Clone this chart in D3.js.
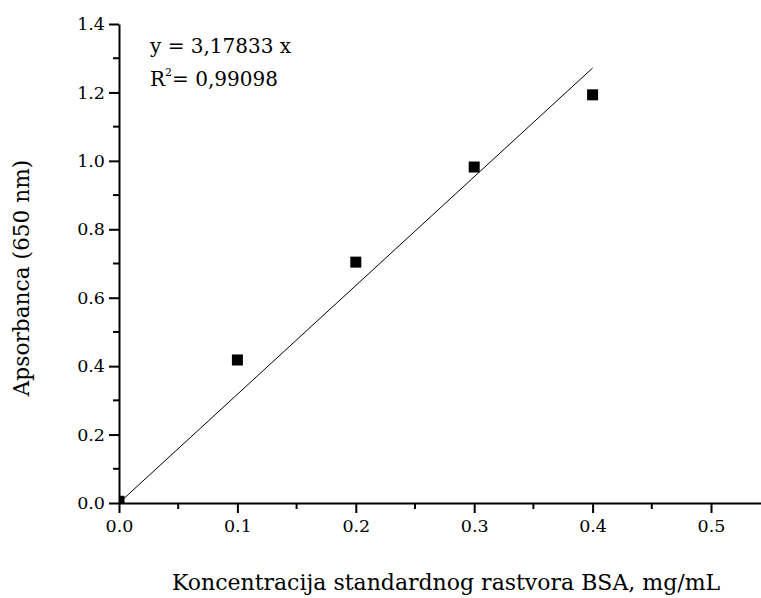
<!DOCTYPE html>
<html><head><meta charset="utf-8">
<script src="https://cdn.jsdelivr.net/npm/d3@7"></script>
<style>body{margin:0;background:#fff}svg{display:block}text{font-family:"DejaVu Serif",serif;fill:#000}</style>
</head><body>
<svg id="c" width="761" height="598"></svg>
<script>
const concentrations = [0.0, 0.1, 0.2, 0.3, 0.4];
const absorbance = [0.005, 0.418, 0.704, 0.982, 1.193];
const slope = 3.17833;
const fitRange = [0.0, 0.4];
const xTicks = [0.0, 0.1, 0.2, 0.3, 0.4, 0.5];
const yTicks = [0.0, 0.2, 0.4, 0.6, 0.8, 1.0, 1.2, 1.4];
const xMinor = [0.05, 0.15, 0.25, 0.35, 0.45];
const yMinor = [0.1, 0.3, 0.5, 0.7, 0.9, 1.1, 1.3];
const equationText = "y = 3,17833 x";
const r2Text = "= 0,99098";
const xTitle = "Koncentracija standardnog rastvora BSA, mg/mL";
const yTitle = "Apsorbanca (650 nm)";

const svg = d3.select("#c");
const x0 = 119, y0 = 503;
const x = d3.scaleLinear().domain([0, 0.55]).range([x0, x0 + 5.5 * 118.4]);
const y = d3.scaleLinear().domain([0, 1.4]).range([y0, 24]);

svg.append("defs").append("clipPath").attr("id", "clip")
  .append("rect").attr("x", x0).attr("y", 0).attr("width", 761 - x0).attr("height", y0);

// fit line
svg.append("line")
  .attr("x1", x(fitRange[0])).attr("y1", y(slope * fitRange[0]))
  .attr("x2", x(fitRange[1])).attr("y2", y(slope * fitRange[1]))
  .attr("stroke", "#000").attr("stroke-width", 1);

// points
const ms = 11;
svg.append("g").attr("clip-path", "url(#clip)").selectAll("rect")
  .data(concentrations.map((c, i) => [c, absorbance[i]]))
  .join("rect")
  .attr("x", d => x(d[0]) - ms / 2).attr("y", d => y(d[1]) - ms / 2)
  .attr("width", ms).attr("height", ms).attr("fill", "#000");

// axes
const xAxis = svg.append("g").attr("transform", `translate(0,${y0})`)
  .call(d3.axisBottom(x).tickValues(xTicks).tickFormat(d3.format(".1f")).tickSizeInner(10).tickSizeOuter(0).tickPadding(7));
xAxis.append("g").selectAll("line").data(xMinor).join("line")
  .attr("x1", d => x(d)).attr("x2", d => x(d)).attr("y1", 0).attr("y2", 6).attr("stroke", "#000").attr("stroke-width", 2);
const yAxis = svg.append("g").attr("transform", `translate(${x0},0)`)
  .call(d3.axisLeft(y).tickValues(yTicks).tickFormat(d3.format(".1f")).tickSizeInner(10).tickSizeOuter(0).tickPadding(4));
yAxis.append("g").selectAll("line").data(yMinor).join("line")
  .attr("y1", d => y(d)).attr("y2", d => y(d)).attr("x1", 0).attr("x2", -6).attr("stroke", "#000").attr("stroke-width", 2);
[xAxis, yAxis].forEach(a => {
  a.select(".domain").attr("stroke-width", 2);
  a.selectAll(".tick line").attr("stroke-width", 2);
  a.selectAll("text").attr("font-size", 17.5).attr("font-family", '"DejaVu Serif", serif');
});

// titles
svg.append("text").attr("x", 446).attr("y", 590).attr("text-anchor", "middle")
  .attr("font-size", 22).text(xTitle);
svg.append("text").attr("transform", "translate(29,278) rotate(-90)").attr("text-anchor", "middle")
  .attr("font-size", 21.7).text(yTitle);

// annotation
svg.append("text").attr("x", 150).attr("y", 53).attr("font-size", 20).text(equationText);
const r2 = svg.append("text").attr("x", 150).attr("y", 86).attr("font-size", 20);
r2.append("tspan").text("R");
r2.append("tspan").attr("font-size", 11).attr("dy", -10).text("2");
r2.append("tspan").attr("dy", 10).text(r2Text);
</script>
</body></html>
